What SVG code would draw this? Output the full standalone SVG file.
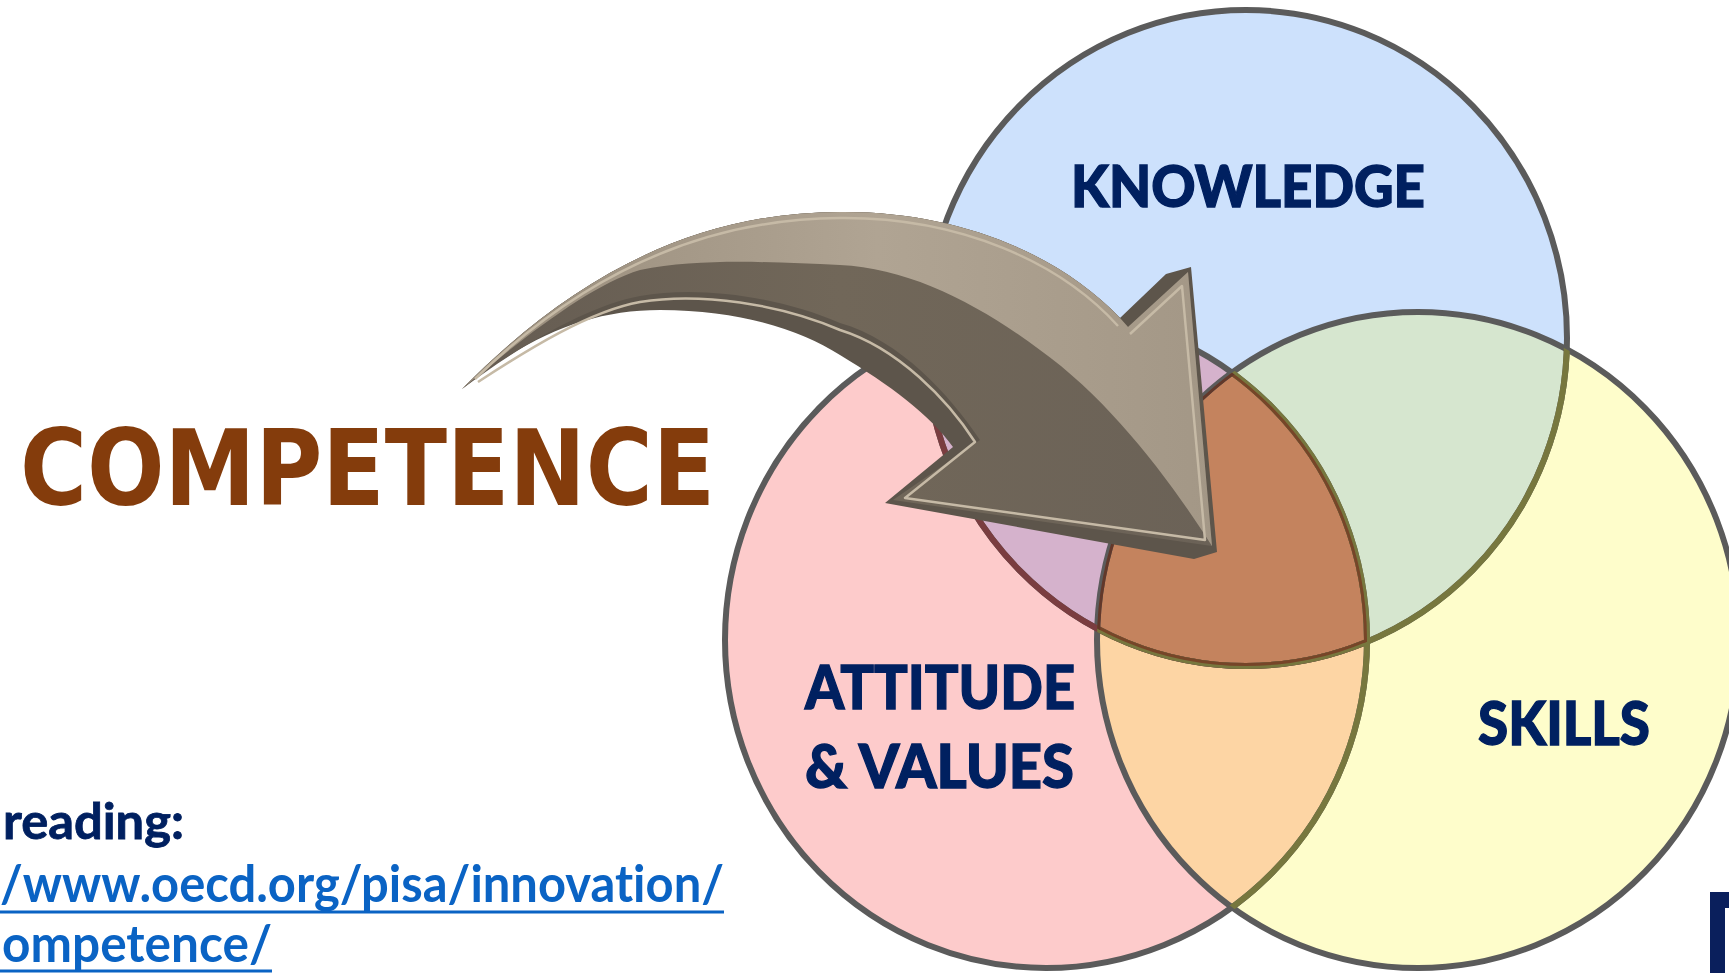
<svg xmlns="http://www.w3.org/2000/svg" width="1729" height="973" viewBox="0 0 1729 973">
<style>
.lbl{font-family:Lato,"Open Sans","Liberation Sans",sans-serif;font-weight:900;fill:#002060;stroke:#002060;stroke-width:1.3;font-variant-ligatures:none}
.rd{font-family:Lato,"Open Sans","Liberation Sans",sans-serif;font-weight:700;fill:#002060;stroke:#002060;stroke-width:0.8;font-variant-ligatures:none}
.url{font-family:Lato,"Open Sans","Liberation Sans",sans-serif;font-weight:700;fill:#0a63c4;font-variant-ligatures:none}
.ring{fill:none;stroke-width:6}
</style>
<defs>
<clipPath id="cK"><ellipse cx="1246" cy="338" rx="321" ry="328"/></clipPath>
<clipPath id="cA"><ellipse cx="1046" cy="640" rx="321" ry="328"/></clipPath>
<clipPath id="cS"><ellipse cx="1418" cy="640" rx="321" ry="328"/></clipPath>
<ellipse id="eK" cx="1246" cy="338" rx="321" ry="328"/>
<ellipse id="eA" cx="1046" cy="640" rx="321" ry="328"/>
<ellipse id="eS" cx="1418" cy="640" rx="321" ry="328"/>
<linearGradient id="gDark" x1="465" y1="0" x2="1215" y2="0" gradientUnits="userSpaceOnUse">
<stop offset="0" stop-color="#655c52"/><stop offset="0.5" stop-color="#716759"/><stop offset="1" stop-color="#6b6257"/>
</linearGradient>
<linearGradient id="gLight" x1="465" y1="0" x2="1215" y2="0" gradientUnits="userSpaceOnUse">
<stop offset="0" stop-color="#988c7b"/><stop offset="0.55" stop-color="#b0a493"/><stop offset="1" stop-color="#a39786"/>
</linearGradient>
</defs>
<rect width="1729" height="973" fill="#ffffff"/>

<g id="venn">
<g id="node-attitude"><use href="#eA" fill="#fdcbcb"/></g>
<g id="node-knowledge"><use href="#eK" fill="#cde1fc"/></g>
<g id="node-skills"><use href="#eS" fill="#fefdcb"/></g>
<g clip-path="url(#cK)"><use href="#eA" fill="#d5b2cc"/></g>
<g clip-path="url(#cK)"><use href="#eS" fill="#d6e6cf"/></g>
<g clip-path="url(#cA)"><use href="#eS" fill="#fdd5a4"/></g>
<g clip-path="url(#cK)"><g clip-path="url(#cA)"><use href="#eS" fill="#c4835e"/></g></g>
<g id="rings">
<use href="#eK" class="ring" stroke="#5b5b5b"/>
<use href="#eA" class="ring" stroke="#5b5b5b"/>
<use href="#eS" class="ring" stroke="#5b5b5b"/>
<g clip-path="url(#cA)"><use href="#eK" class="ring" stroke="#7a3d40"/></g>
<g clip-path="url(#cS)"><use href="#eK" class="ring" stroke="#77773e"/><use href="#eA" class="ring" stroke="#77773e"/></g>
<g clip-path="url(#cK)"><g clip-path="url(#cA)"><g clip-path="url(#cS)">
<use href="#eK" class="ring" stroke="#764528"/>
<use href="#eA" class="ring" stroke="#764528"/>
<use href="#eS" class="ring" stroke="#62382a"/>
</g></g></g>
</g>
<text class="lbl" x="1071" y="207" font-size="58" textLength="354" lengthAdjust="spacingAndGlyphs">KNOWLEDGE</text>
<text class="lbl" x="805" y="709" font-size="60" textLength="270" lengthAdjust="spacingAndGlyphs">ATTITUDE</text>
<text class="lbl" x="805" y="788" font-size="60" textLength="269" lengthAdjust="spacingAndGlyphs">&amp; VALUES</text>
<text class="lbl" x="1478" y="745" font-size="60" textLength="172" lengthAdjust="spacingAndGlyphs">SKILLS</text>
</g>

<g id="connectors">
<g id="arrow">
<path fill="#5d554b" d="M462,389 C560,290 680,212 840,212 C960,211 1060,255 1120,318 L1166,274 L1191,267 L1217,552 L1194,559 L885,503 L953,447 C930,415 890,385 840,355 C800,330 740,310 660,310 C590,310 530,335 462,389 Z"/>
<path fill="url(#gDark)" d="M462,389 C560,290 680,212 840,212 C960,211 1060,255 1120,318 L1128,327 L1188,272 L1212,546 L893,500 L980,440 C950,395 900,340 840,323 C780,297 700,285 640,296 C590,305 520,345 462,389 Z"/>
<path fill="url(#gLight)" d="M462,389 C560,290 680,212 840,212 C960,211 1060,255 1120,318 L1128,327 L1188,272 L1212,546 C1170,480 1110,400 1040,350 C980,305 910,268 840,265 C770,262 700,258 640,270 C590,285 520,340 462,389 Z"/>
<path fill="none" stroke="#c6baa6" stroke-width="2.5" stroke-linejoin="round" d="M475,379 C560,296 680,219 840,218 C960,217 1060,262 1118,326 M1130,334 L1182,286 L1205,540 L905,498 L975,442 C948,400 898,348 840,330 C780,304 700,292 640,302 C590,311 530,348 478,382"/>
</g>
</g>

<g id="title">
<text x="20" y="505" font-family="'DejaVu Sans','Liberation Sans',sans-serif" font-weight="700" font-size="106" fill="#843c0c" textLength="695" lengthAdjust="spacingAndGlyphs">COMPETENCE</text>
</g>

<g id="reading">
<text class="rd" x="3" y="839" font-size="50" textLength="181" lengthAdjust="spacingAndGlyphs">reading:</text>
<text class="url" x="0" y="902" font-size="52" textLength="724" lengthAdjust="spacingAndGlyphs">/www.oecd.org/pisa/innovation/</text>
<line x1="0" y1="912" x2="724" y2="912" stroke="#0a63c4" stroke-width="3"/>
<text class="url" x="2" y="962" font-size="52" textLength="270" lengthAdjust="spacingAndGlyphs">ompetence/</text>
<line x1="0" y1="971" x2="272" y2="971" stroke="#0a63c4" stroke-width="3"/>
</g>

<g id="corner-mark">
<path fill="#0a1f5c" d="M1710,892 H1729 V908 H1725 V973 H1710 Z"/>
</g>
</svg>
